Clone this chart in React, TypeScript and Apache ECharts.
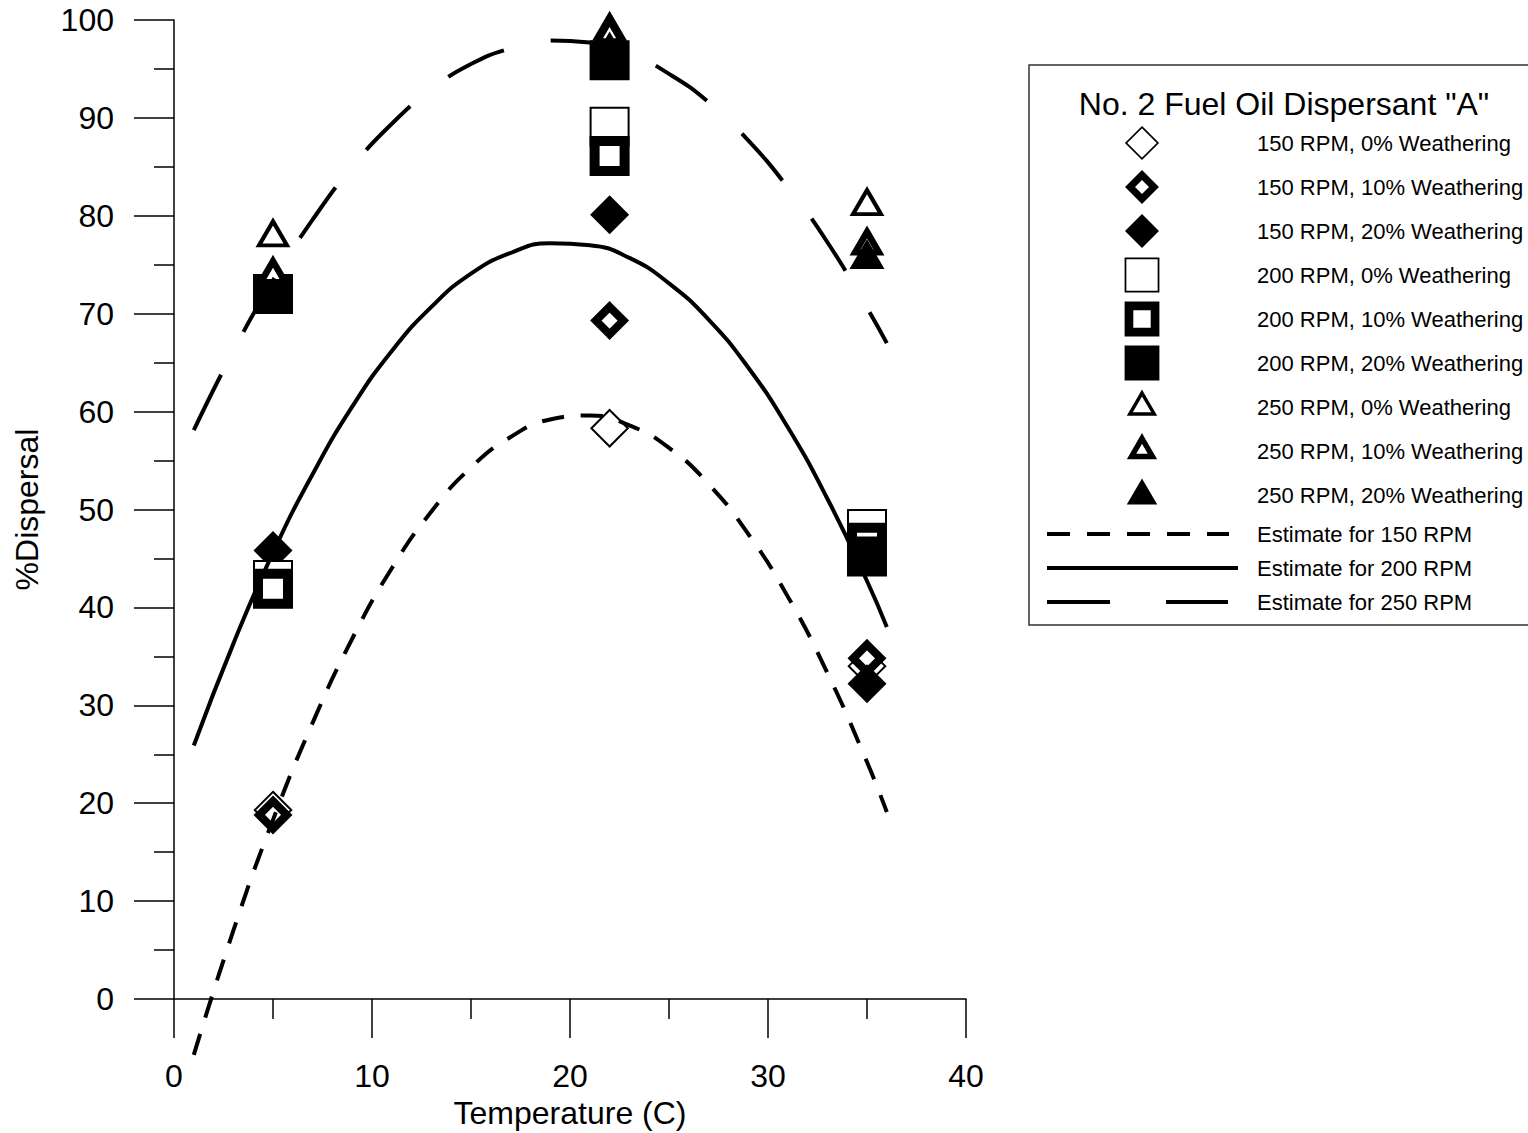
import React, { useEffect, useRef } from "react";
import * as echarts from "echarts";

// ---------- data ----------
const temperatures = [5, 22, 35];
const disp150_0 = [19.3, 58.3, 34.0];
const disp150_10 = [18.8, 69.3, 34.8];
const disp150_20 = [45.8, 80.1, 32.2];
const disp200_0 = [42.8, 89.1, 48.0];
const disp200_10 = [41.9, 86.1, 46.6];
const disp200_20 = [72.0, 95.9, 45.2];
const disp250_0 = [78.2, 99.3, 81.4];
const disp250_10 = [74.3, 98.9, 77.3];
const disp250_20 = [72.2, 97.3, 76.1];

const curveTemps = [1, 3, 5, 7, 9, 11, 13, 15, 17, 19, 21, 23, 25, 27, 29, 31, 33, 35, 36];
const est150 = [-5.7, 7.0, 18.3, 28.2, 36.8, 44.0, 49.8, 54.3, 57.4, 59.2, 59.6, 58.6, 56.3, 52.6, 47.5, 41.1, 33.3, 24.2, 19.1];
const est200 = [25.9, 36.3, 45.6, 53.6, 60.5, 66.2, 70.7, 74.1, 76.2, 77.2, 77.0, 75.7, 73.1, 69.4, 64.5, 58.4, 51.1, 42.7, 38.0];
const est250 = [58.1, 66.2, 73.4, 79.6, 85.0, 89.4, 92.9, 95.5, 97.1, 97.9, 97.7, 96.6, 94.5, 91.6, 87.7, 82.9, 77.3, 70.6, 67.0];

const pointSeriesNames = [
  "150 RPM, 0% Weathering",
  "150 RPM, 10% Weathering",
  "150 RPM, 20% Weathering",
  "200 RPM, 0% Weathering",
  "200 RPM, 10% Weathering",
  "200 RPM, 20% Weathering",
  "250 RPM, 0% Weathering",
  "250 RPM, 10% Weathering",
  "250 RPM, 20% Weathering",
];
const pointSeriesValues = [
  disp150_0, disp150_10, disp150_20,
  disp200_0, disp200_10, disp200_20,
  disp250_0, disp250_10, disp250_20,
];
const curveNames = ["Estimate for 150 RPM", "Estimate for 200 RPM", "Estimate for 250 RPM"];
const curveValues = [est150, est200, est250];

const legendTitle = 'No. 2 Fuel Oil Dispersant "A"';
const xName = "Temperature (C)";
const yName = "%Dispersal";

// ---------- styles ----------
const FONT = "'Liberation Sans', Arial, Helvetica, sans-serif";
type Kind = "diamond" | "rect" | "triangle";
type Fill = "open" | "ring" | "filled";
const markerKinds: [Kind, Fill][] = [
  ["diamond", "open"], ["diamond", "ring"], ["diamond", "filled"],
  ["rect", "open"], ["rect", "ring"], ["rect", "filled"],
  ["triangle", "open"], ["triangle", "ring"], ["triangle", "filled"],
];

function markerGeom(kind: Kind, fill: Fill): { w: number; h: number; bw: number } {
  if (kind === "diamond") {
    if (fill === "open") return { w: 36.5, h: 36.5, bw: 2 };
    if (fill === "ring") return { w: 27.5, h: 27.5, bw: 8.1 };
    return { w: 39, h: 39, bw: 0 };
  }
  if (kind === "rect") {
    if (fill === "open") return { w: 38, h: 38, bw: 2 };
    if (fill === "ring") return { w: 30, h: 30, bw: 10 };
    return { w: 40, h: 40, bw: 0 };
  }
  if (fill === "open") return { w: 28, h: 24, bw: 4 };
  if (fill === "ring") return { w: 24, h: 20.7, bw: 6.25 };
  return { w: 35, h: 30, bw: 0 };
}

const curveDash: any[] = [[22, 17], "solid", [62, 48]];
const legendDash: any[] = [[23, 17], null, [63, 56]];

function legendMarker(kind: Kind, fill: Fill, cx: number, cy: number, s: number) {
  const g = markerGeom(kind, fill);
  const w = g.w * s, h = g.h * s, bw = g.bw * s;
  const style: any = {
    fill: fill === "filled" ? "#000" : "#fff",
    stroke: fill === "filled" ? null : "#000",
    lineWidth: bw,
    lineJoin: "miter",
    miterLimit: 10,
  };
  if (kind === "rect") {
    return { type: "rect", shape: { x: cx - w / 2, y: cy - h / 2, width: w, height: h }, style, z: 20 };
  }
  let points: number[][];
  if (kind === "diamond") {
    points = [[cx, cy - h / 2], [cx + w / 2, cy], [cx, cy + h / 2], [cx - w / 2, cy]];
  } else {
    points = [[cx, cy - h / 2], [cx + w / 2, cy + h / 2], [cx - w / 2, cy + h / 2]];
  }
  return { type: "polygon", shape: { points }, style, z: 20 };
}

function buildOption() {
  const series: any[] = [];
  pointSeriesNames.forEach((name, i) => {
    const [kind, fill] = markerKinds[i];
    const g = markerGeom(kind, fill);
    series.push({
      name,
      type: "scatter",
      data: temperatures.map((t, j) => [t, pointSeriesValues[i][j]]),
      symbol: kind,
      symbolSize: [g.w, g.h],
      itemStyle: {
        color: fill === "filled" ? "#000" : "#fff",
        borderColor: "#000",
        borderWidth: g.bw,
        borderJoin: "miter",
        borderMiterLimit: 10,
        opacity: 1,
      },
      emphasis: { disabled: true },
      z: 2 + i * 0.01,
      clip: false,
    });
  });
  curveNames.forEach((name, i) => {
    series.push({
      name,
      type: "line",
      data: curveTemps.map((t, j) => [t, curveValues[i][j]]),
      smooth: true,
      symbol: "none",
      clip: false,
      lineStyle: { color: "#000", width: 4, type: curveDash[i], cap: "butt" },
      emphasis: { disabled: true },
      z: 5,
    });
  });

  const graphics: any[] = [];
  graphics.push({
    type: "rect",
    shape: { x: 1029, y: 65, width: 530, height: 560 },
    style: { fill: "#fff", stroke: "#333", lineWidth: 1.5 },
    z: 10,
  });
  graphics.push({
    type: "text",
    x: 1284,
    y: 104,
    style: {
      text: legendTitle,
      font: `32px ${FONT}`,
      fill: "#000",
      align: "center",
      verticalAlign: "middle",
    },
    z: 20,
  });
  pointSeriesNames.forEach((name, i) => {
    const cy = 143 + 44 * i;
    const [kind, fill] = markerKinds[i];
    graphics.push(legendMarker(kind, fill, 1142, kind === "triangle" ? cy - 3.5 : cy, 0.87));
    graphics.push({
      type: "text",
      x: 1257,
      y: cy,
      style: { text: name, font: `22px ${FONT}`, fill: "#000", align: "left", verticalAlign: "middle" },
      z: 20,
    });
  });
  const lineEnds = [1229, 1238, 1228];
  curveNames.forEach((name, i) => {
    const cy = 534 + 34 * i;
    graphics.push({
      type: "line",
      shape: { x1: 1047, y1: cy, x2: lineEnds[i], y2: cy },
      style: { stroke: "#000", lineWidth: 4, lineDash: legendDash[i], lineCap: "butt" },
      z: 20,
    });
    graphics.push({
      type: "text",
      x: 1257,
      y: cy,
      style: { text: name, font: `22px ${FONT}`, fill: "#000", align: "left", verticalAlign: "middle" },
      z: 20,
    });
  });

  const axisLine = { show: true, onZero: false, lineStyle: { color: "#000", width: 1.5 } };
  return {
    animation: false,
    backgroundColor: "#fff",
    textStyle: { fontFamily: FONT },
    grid: { left: 174, top: 20, width: 792, height: 979, containLabel: false, outerBoundsMode: "none" },
    xAxis: {
      type: "value",
      min: 0,
      max: 40,
      interval: 10,
      name: xName,
      nameLocation: "middle",
      nameGap: 97,
      nameTextStyle: { fontSize: 32, color: "#000", fontFamily: FONT },
      axisLine,
      axisTick: { show: true, length: 39, lineStyle: { color: "#000", width: 1.5 } },
      minorTick: { show: true, splitNumber: 2, length: 20, lineStyle: { color: "#000", width: 1.5 } },
      axisLabel: { fontSize: 32, color: "#000", margin: 61, fontFamily: FONT },
      splitLine: { show: false },
      minorSplitLine: { show: false },
    },
    yAxis: {
      type: "value",
      min: 0,
      max: 100,
      interval: 10,
      name: yName,
      nameLocation: "middle",
      nameRotate: 90,
      nameGap: 131,
      nameTextStyle: { fontSize: 32, color: "#000", fontFamily: FONT },
      axisLine,
      axisTick: { show: true, length: 40, lineStyle: { color: "#000", width: 1.5 } },
      minorTick: { show: true, splitNumber: 2, length: 20, lineStyle: { color: "#000", width: 1.5 } },
      axisLabel: { fontSize: 32, color: "#000", margin: 60, fontFamily: FONT },
      splitLine: { show: false },
      minorSplitLine: { show: false },
    },
    tooltip: { show: false },
    series,
    graphic: { elements: graphics },
  };
}

export default function App() {
  const ref = useRef<HTMLDivElement>(null);
  useEffect(() => {
    if (!ref.current) return;
    document.body.style.margin = "0";
    const chart = echarts.init(ref.current, null, { renderer: "svg" });
    chart.setOption(buildOption() as any);
    return () => chart.dispose();
  }, []);
  return <div ref={ref} style={{ width: 1528, height: 1133, background: "#fff", overflow: "hidden" }} />;
}
